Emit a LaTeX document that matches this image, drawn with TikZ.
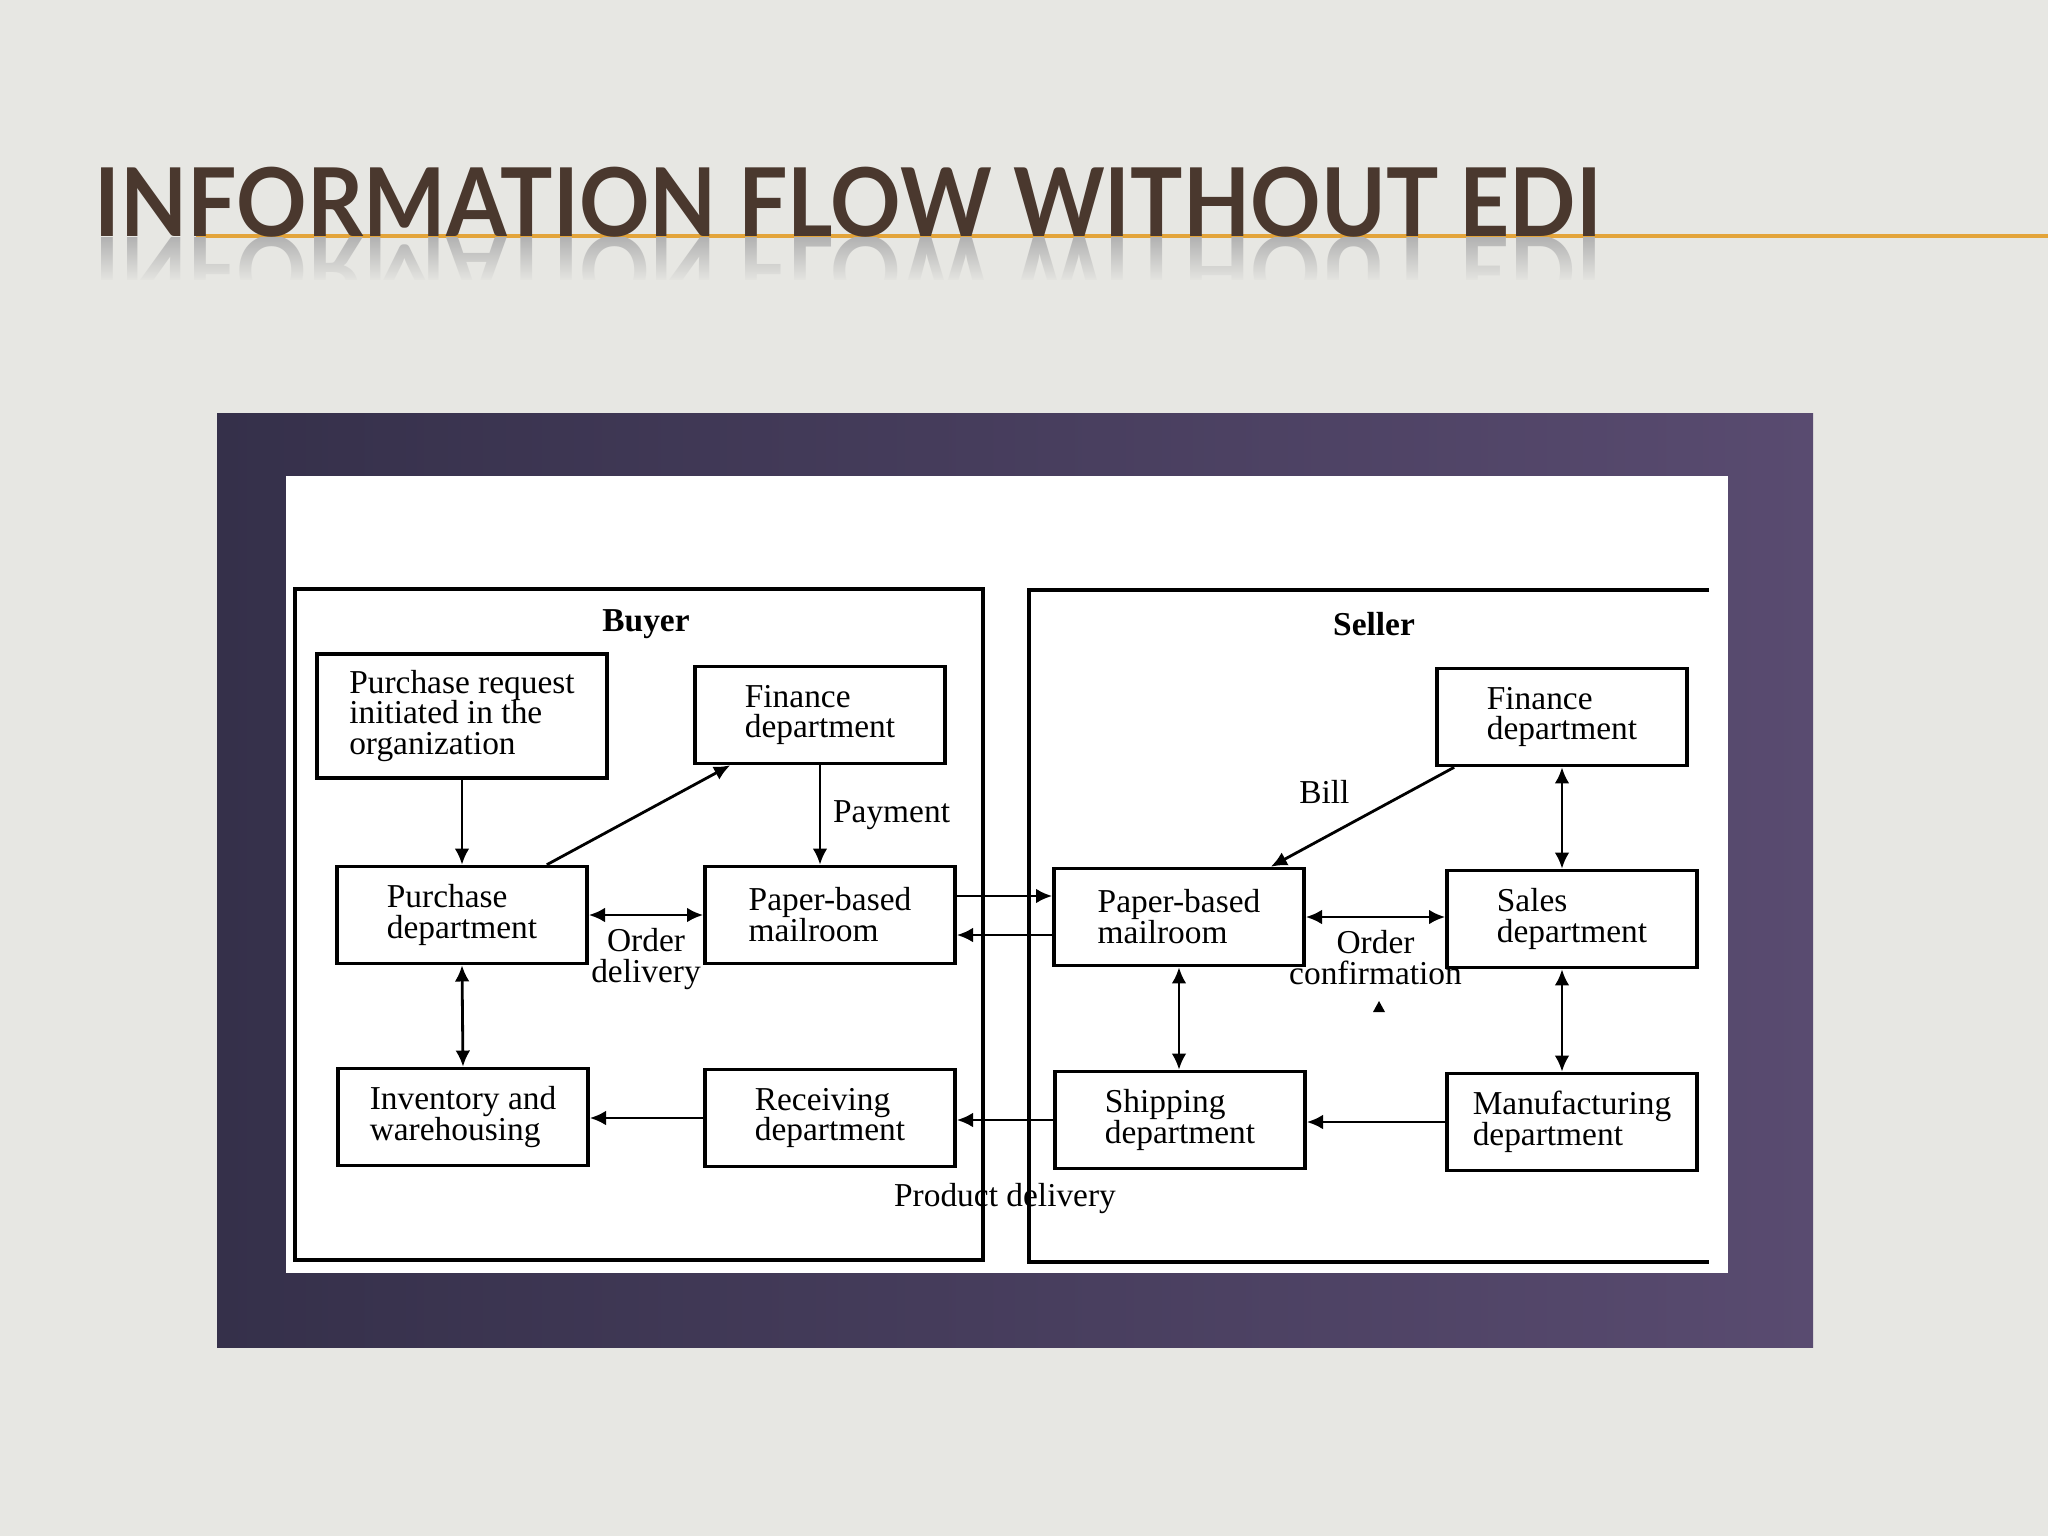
\documentclass[tikz,border=0pt]{standalone}
\usepackage{fontspec}
\setmainfont{Liberation Serif}
\newfontfamily\titlefont[FakeStretch=0.92]{Lato}
\usetikzlibrary{arrows.meta,positioning,fadings}

\definecolor{slidebg}{HTML}{E7E7E3}
\definecolor{titlebrown}{HTML}{4A382E}
\definecolor{ruleorange}{HTML}{E3A43A}
\definecolor{panelleft}{HTML}{35304A}
\definecolor{panelright}{HTML}{594B70}

\tikzfading[name=reflfade, top color=transparent!100, bottom color=transparent!0]

\tikzset{
  titletext/.style={font=\titlefont\bfseries\fontsize{27}{30}\selectfont, inner sep=0pt, anchor=base west},
  dept/.style={draw, line width=1pt, minimum width=2.5cm, minimum height=0.97cm,
    align=left, inner sep=0pt, font=\fontsize{9.5}{8.8}\selectfont},
  flow/.style={line width=0.8pt, -{Latex[length=4.6pt,width=4.2pt]}},
  twoway/.style={line width=0.8pt, {Latex[length=4.6pt,width=4.2pt]}-{Latex[length=4.6pt,width=4.2pt]}},
  flowlabel/.style={font=\fontsize{9.5}{8.8}\selectfont, align=center},
  side/.style={line width=0.9pt},
}

\begin{document}
\begin{tikzpicture}[x=0.01cm, y=-0.01cm]
    \useasboundingbox (0,0) rectangle (2048,1536);
    \fill[slidebg] (0,0) rectangle (2048,1536);

    % title with rule and reflection
    \draw[ruleorange, line width=0.9pt] (196,236) -- (2048,236);
    \begin{scope}
        \clip (0,237) rectangle (2048,300);
        \begin{scope}[shift={(94,236)}, yscale=-1]
            \node[titletext, text=black!30, transform shape] (titlerefl) at (0,0) {INFORMATION FLOW WITHOUT EDI};
        \end{scope}
        \fill[slidebg, path fading=reflfade] (0,237) rectangle (2048,282);
        \fill[slidebg] (0,280) rectangle (2048,301);
    \end{scope}
    \node[titletext, text=titlebrown] (title) at (94,236) {INFORMATION FLOW WITHOUT EDI};

    % picture frame
    \shade[left color=panelleft, right color=panelright] (217,413) rectangle (1813,1347);
    \fill[white] (286,476) rectangle (1728,1273);

    \draw[side] (295,589) rectangle (983,1260);
    \draw[side] (1709,590) -- (1029,590) -- (1029,1262) -- (1709,1262);

    \node[font=\bfseries\fontsize{9.5}{10}\selectfont] (buyer) at (646,624) {Buyer};
    \node[font=\bfseries\fontsize{9.5}{10}\selectfont] (seller) at (1374,624) {Seller};

    % buyer side
    \node[dept, minimum width=2.9cm, minimum height=1.24cm] (req) at (462,716) {Purchase request\\initiated in the\\organization};
    \node[dept] (finB) at (820,715) {Finance\\department};
    \node[dept] (pur) at (462,915) {Purchase\\department};
    \node[dept] (mailB) at (830,915) {Paper-based\\mailroom};
    \node[dept] (inv) at (463,1117) {Inventory and\\warehousing};
    \node[dept] (recv) at (830,1118) {Receiving\\department};

    % seller side
    \node[dept] (finS) at (1562,717) {Finance\\department};
    \node[dept] (mailS) at (1179,917) {Paper-based\\mailroom};
    \node[dept] (sales) at (1572,919) {Sales\\department};
    \node[dept] (ship) at (1180,1120) {Shipping\\department};
    \node[dept] (manu) at (1572,1122) {Manufacturing\\department};

    \draw[flow] (req.south) -- (pur.north);
    \draw[flow] ([xshift=-0.42cm]pur.north east) -- ([xshift=0.37cm]finB.south west);
    \draw[flow] (finB.south) -- node[right, flowlabel] {Payment} (finB.south |- mailB.north);
    \draw[twoway] (pur.east) -- node[below, flowlabel] {Order\\delivery} (mailB.west);
    \draw[twoway] (pur.south) -- (inv.north);
    \draw[flow] (recv.west) -- (recv.west -| inv.east);

    \draw[flow] ([yshift=0.19cm]mailB.east) -- ([yshift=0.19cm]mailB.east -| mailS.west);
    \draw[flow] ([yshift=-0.18cm]mailS.west) -- ([yshift=-0.18cm]mailS.west -| mailB.east);
    \draw[flow] (ship.west) -- node[below=0.5cm, flowlabel] {Product delivery} (ship.west -| recv.east);

    \draw[flow] ([xshift=0.19cm]finS.south west) -- node[above left, flowlabel] {Bill} ([xshift=-0.35cm]mailS.north east);
    \draw[twoway] (finS.south) -- (finS.south |- sales.north);
    \draw[twoway] (mailS.east) -- node[below, flowlabel] {Order\\confirmation} (mailS.east -| sales.west);
    \fill (1373,1012) -- (1385,1012) -- (1379,1001) -- cycle;
    \draw[twoway] (mailS.south) -- (mailS.south |- ship.north);
    \draw[twoway] (sales.south -| finS.south) -- (manu.north -| finS.south);
    \draw[flow] (manu.west) -- (manu.west -| ship.east);
\end{tikzpicture}
\end{document}
